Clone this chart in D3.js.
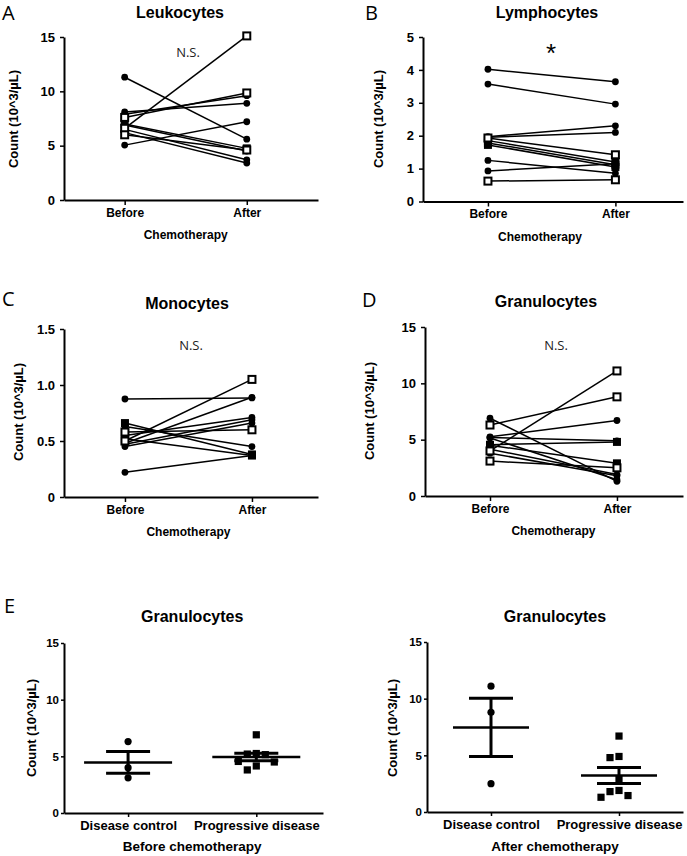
<!DOCTYPE html>
<html><head><meta charset="utf-8">
<script src="https://cdn.jsdelivr.net/npm/d3@7"></script>
<style>body{margin:0;background:#fff}svg{display:block}</style>
</head><body>
<svg id="c" width="687" height="856"></svg>
<script>
// ---------- DATA ----------
const timepoints = ["Before", "After"];
// shapes: o = filled circle, s = filled square, q = open square
const leukoBefore = [11.3, 5.05, 6.6, 8.1, 7.6, 7.9, 6.0, 7.0, 6.9, 6.5, 6.2];
const leukoAfter  = [5.6, 7.2, 15.1, 8.9, 9.85, 9.6, 4.6, 4.75, 4.5, 3.7, 3.4];
const leukoShape  = ["o","o","q","o","q","o","q","s","o","o","o"];

const lymphoBefore = [4.02, 3.57, 1.97, 1.95, 1.93, 1.85, 1.78, 1.72, 1.25, 0.93, 0.62];
const lymphoAfter  = [3.64, 2.96, 2.30, 2.10, 1.42, 1.20, 1.12, 1.05, 0.86, 1.15, 0.66];
const lymphoShape  = ["o","o","o","o","q","s","s","s","o","o","q"];

const monoBefore = [0.875, 0.22, 0.66, 0.63, 0.50, 0.48, 0.58, 0.55, 0.47, 0.45, 0.52];
const monoAfter  = [0.885, 0.37, 0.38, 0.45, 1.05, 0.89, 0.60, 0.71, 0.69, 0.66, 0.37];
const monoShape  = ["o","o","s","o","q","o","q","o","o","o","s"];

const granBefore = [6.9, 5.25, 5.2, 4.55, 5.15, 4.5, 4.15, 3.8, 6.3, 4.0, 3.1];
const granAfter  = [1.3, 6.7, 4.9, 4.8, 1.45, 2.9, 1.9, 1.8, 8.8, 11.1, 2.5];
const granShape  = ["o","o","o","s","o","s","o","o","q","q","q"];

const groups = ["Disease control", "Progressive disease"];
const granBeforeControl     = [6.3, 4.0, 3.1];
const granBeforeProgressive = [6.9, 5.25, 5.2, 5.15, 4.55, 4.5, 4.15, 3.8];
const granAfterControl      = [11.1, 8.8, 2.5];
const granAfterProgressive  = [6.7, 4.9, 4.8, 2.9, 1.9, 1.8, 1.45, 1.3];

const ticks15 = [0, 5, 10, 15];
const ticks5 = [0, 1, 2, 3, 4, 5];
const ticks15m = [0, 0.5, 1.0, 1.5];

// ---------- DRAWING ----------
const svg = d3.select("#c");
const FONT = "'Liberation Sans', Arial, sans-serif";
const yLabelText = "Count (10^3/\u00b5L)";

function styleAxis(sel, fs, tw) {
  sel.select(".domain").attr("stroke", "#000").attr("stroke-width", 2);
  sel.selectAll(".tick line").attr("stroke", "#000").attr("stroke-width", tw);
  sel.selectAll(".tick text").attr("font-family", FONT).attr("font-weight", "bold")
     .attr("font-size", fs).attr("fill", "#000");
}

function label(x, y, txt, opts) {
  return svg.append("text").attr("x", x).attr("y", y).text(txt)
    .attr("font-family", opts.family || FONT)
    .attr("font-weight", opts.weight || "bold")
    .attr("font-size", opts.size)
    .attr("text-anchor", opts.anchor || "middle")
    .attr("fill", opts.fill || "#000");
}

function yTitle(cx, cy, size) {
  svg.append("text").attr("transform", `translate(${cx},${cy}) rotate(-90)`)
    .attr("text-anchor", "middle").attr("font-family", FONT).attr("font-weight", "bold")
    .attr("font-size", size).attr("fill", "#000").text(yLabelText);
}

function marker(g, shape, cx, cy) {
  if (shape === "o") {
    g.append("circle").attr("cx", cx).attr("cy", cy).attr("r", 3.4).attr("fill", "#000");
  } else if (shape === "s") {
    g.append("rect").attr("x", cx - 4).attr("y", cy - 4).attr("width", 8).attr("height", 8).attr("fill", "#000");
  } else {
    g.append("rect").attr("x", cx - 3.5).attr("y", cy - 3.5).attr("width", 7).attr("height", 7)
      .attr("fill", "#fff").attr("stroke", "#000").attr("stroke-width", 2);
  }
}

function paired(c) {
  const y = d3.scaleLinear().domain([0, c.max]).range([c.y0, c.y1]);
  const x = d3.scalePoint().domain(timepoints).range([c.x0, c.x1]).padding(c.pad).align(c.align);
  const ya = svg.append("g").attr("transform", `translate(${c.x0},0)`)
    .call(d3.axisLeft(y).tickValues(c.ticks).tickSize(4).tickPadding(5).tickSizeOuter(0).tickFormat(c.fmt));
  styleAxis(ya, 13, 1.5);
  const xa = svg.append("g").attr("transform", `translate(0,${c.y0})`)
    .call(d3.axisBottom(x).tickSize(5).tickPadding(3).tickSizeOuter(0));
  styleAxis(xa, 12, 1.5);

  const g = svg.append("g");
  c.before.forEach((b, i) => {
    g.append("line").attr("x1", x("Before")).attr("y1", y(b))
      .attr("x2", x("After")).attr("y2", y(c.after[i]))
      .attr("stroke", "#000").attr("stroke-width", 1.5);
  });
  const order = c.before.map((_, i) => i).sort((a, b) => (c.shape[a] === "q") - (c.shape[b] === "q"));
  order.forEach(i => {
    marker(g, c.shape[i], x("Before"), y(c.before[i]));
    marker(g, c.shape[i], x("After"), y(c.after[i]));
  });

  label(c.lx, c.ly, c.letter, {family: "'Open Sans', sans-serif", weight: "normal", size: 20, anchor: "start"});
  label(c.tx, c.ty, c.title, {size: 16});
  label(c.cx != null ? c.cx : (x("Before") + x("After")) / 2, c.y0 + 39, "Chemotherapy", {size: 12});
  yTitle(c.ylx, c.yly, 13);
  if (c.sig === "*") label(c.sx, c.sy, "*", {family: FONT, weight: "normal", size: 26});
  else label(c.sx, c.sy, c.sig, {family: "'Open Sans', sans-serif", weight: "normal", size: 13, fill: "#222"});
}

function swarm(vals, y, d) {
  const placed = [];
  const sorted = vals.map((v, i) => ({v, i})).sort((a, b) => b.v - a.v);
  sorted.forEach(p => {
    const py = y(p.v);
    const cands = [0];
    for (let k = 1; k < 8; k++) { cands.push(-k * d, k * d); }
    for (const dx of cands) {
      if (placed.every(q => Math.hypot(q.dx - dx, q.py - py) >= d - 0.01)) {
        placed.push({v: p.v, dx, py}); break;
      }
    }
  });
  return placed;
}

function scatter(c) {
  const y = d3.scaleLinear().domain([0, 15]).range([c.y0, c.y1]);
  const x = d3.scalePoint().domain(groups).range([c.x0, c.x1]).padding(c.pad).align(c.align);
  const ya = svg.append("g").attr("transform", `translate(${c.x0},0)`)
    .call(d3.axisLeft(y).tickValues(ticks15).tickSize(3).tickPadding(2).tickSizeOuter(0));
  styleAxis(ya, 11.5, 1.5);
  const xa = svg.append("g").attr("transform", `translate(0,${c.y0})`)
    .call(d3.axisBottom(x).tickSize(4).tickPadding(4).tickSizeOuter(0));
  styleAxis(xa, 13, 1.5);

  const g = svg.append("g");
  const sets = [{vals: c.control, shape: "o"}, {vals: c.progressive, shape: "s"}];
  sets.forEach((s, gi) => {
    const cx = x(groups[gi]);
    swarm(s.vals, y, 9).forEach(p => {
      if (s.shape === "o") g.append("circle").attr("cx", cx + p.dx).attr("cy", p.py).attr("r", 3.6).attr("fill", "#000");
      else g.append("rect").attr("x", cx + p.dx - 3.6).attr("y", p.py - 3.6).attr("width", 7.2).attr("height", 7.2).attr("fill", "#000");
    });
  });
  sets.forEach((s, gi) => {
    const cx = x(groups[gi]);
    const m = d3.mean(s.vals);
    const sem = d3.deviation(s.vals) / Math.sqrt(s.vals.length);
    g.append("line").attr("x1", cx - c.mw).attr("x2", cx + c.mw).attr("y1", y(m)).attr("y2", y(m))
      .attr("stroke", "#000").attr("stroke-width", 2.5);
    g.append("line").attr("x1", cx).attr("x2", cx).attr("y1", y(m + sem)).attr("y2", y(m - sem))
      .attr("stroke", "#000").attr("stroke-width", 3);
    [m + sem, m - sem].forEach(v => {
      g.append("line").attr("x1", cx - 22).attr("x2", cx + 22).attr("y1", y(v)).attr("y2", y(v))
        .attr("stroke", "#000").attr("stroke-width", 3);
    });
  });
  if (c.letter) label(4, 613, c.letter, {family: "'Open Sans', sans-serif", weight: "normal", size: 20, anchor: "start"});
  label((x(groups[0]) + x(groups[1])) / 2, 622, "Granulocytes", {size: 16});
  label((x(groups[0]) + x(groups[1])) / 2, 851, c.xtitle, {size: 13.5});
  yTitle(c.ylx, 728, 13);
}

const fmt0 = d => d3.format("d")(d);
const fmtM = d => d === 0 ? "0" : d3.format(".1f")(d);

paired({letter: "A", lx: 2, ly: 20, title: "Leukocytes", tx: 180, ty: 18,
  x0: 64, x1: 318, pad: 0.54, align: 0.46, y0: 200, y1: 37, max: 15, ticks: ticks15, fmt: fmt0,
  before: leukoBefore, after: leukoAfter, shape: leukoShape,
  ylx: 18, yly: 119, sig: "N.S.", sx: 188, sy: 57});

paired({letter: "B", lx: 365, ly: 20, title: "Lymphocytes", tx: 547, ty: 18,
  x0: 423, x1: 683, pad: 0.52, align: 0.49, y0: 201.5, y1: 37, max: 5, ticks: ticks5, fmt: fmt0,
  before: lymphoBefore, after: lymphoAfter, shape: lymphoShape, cx: 540,
  ylx: 383, yly: 119, sig: "*", sx: 551, sy: 62});

paired({letter: "C", lx: 2, ly: 306, title: "Monocytes", tx: 187, ty: 309,
  x0: 64, x1: 318, pad: 0.5, align: 0.48, y0: 497, y1: 329, max: 1.5, ticks: ticks15m, fmt: fmtM,
  before: monoBefore, after: monoAfter, shape: monoShape,
  ylx: 23, yly: 412, sig: "N.S.", sx: 191, sy: 350});

paired({letter: "D", lx: 362, ly: 307, title: "Granulocytes", tx: 546, ty: 307,
  x0: 425, x1: 683, pad: 0.516, align: 0.496, y0: 496, y1: 327, max: 15, ticks: ticks15, fmt: fmt0,
  before: granBefore, after: granAfter, shape: granShape,
  ylx: 374, yly: 411, sig: "N.S.", sx: 556, sy: 350});

scatter({letter: "E", x0: 64, x1: 323, pad: 0.51, align: 0.49, y0: 813, y1: 643, mw: 44,
  control: granBeforeControl, progressive: granBeforeProgressive,
  xtitle: "Before chemotherapy", ylx: 36});

scatter({letter: null, x0: 427, x1: 683, pad: 0.5, align: 0.5, y0: 812, y1: 642, mw: 38,
  control: granAfterControl, progressive: granAfterProgressive,
  xtitle: "After chemotherapy", ylx: 397});
</script>
</body></html>
